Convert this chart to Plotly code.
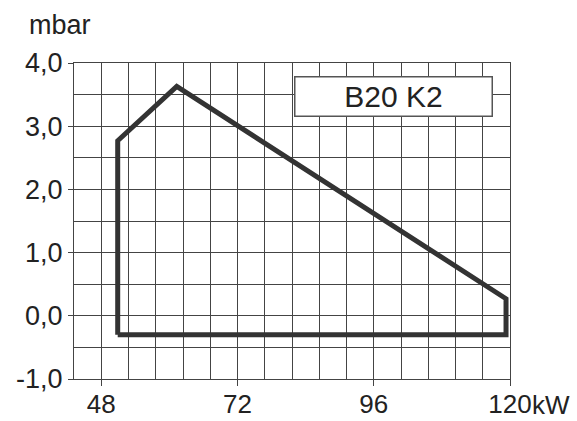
import plotly.graph_objects as go

# Operating field polygon (kW, mbar)
power_kw = [50.9, 50.9, 61.3, 119.3, 119.3, 50.9]
pressure_mbar = [-0.3, 2.77, 3.63, 0.27, -0.3, -0.3]

x_ticks = [48, 72, 96, 120]
x_tick_labels = ["48", "72", "96", "120"]
y_ticks = [-1, 0, 1, 2, 3, 4]
y_tick_labels = ["-1,0", "0,0", "1,0", "2,0", "3,0", "4,0"]

label_box = "B20 K2"
y_unit = "mbar"
x_unit = "kW"

FONT = "Liberation Sans, Arial, sans-serif"
GRID = "#444444"
TXT = "#222222"

fig = go.Figure()
fig.add_trace(go.Scatter(
    x=power_kw, y=pressure_mbar, mode="lines",
    line=dict(color="#333333", width=5),
    hoverinfo="skip", showlegend=False,
))

fig.update_xaxes(
    range=[43.2, 120], tickvals=x_ticks, ticktext=x_tick_labels,
    showgrid=True, gridcolor=GRID, gridwidth=1,
    minor=dict(tick0=43.2, dtick=4.8, showgrid=True, gridcolor=GRID, gridwidth=1),
    showline=True, linecolor=GRID, linewidth=1, mirror=True,
    ticks="outside", ticklen=6, tickcolor=GRID, tickwidth=1,
    ticklabelstandoff=-4,
    tickfont=dict(family=FONT, size=26, color=TXT),
    zeroline=False, fixedrange=True, automargin=False,
)
fig.update_yaxes(
    range=[-1, 4], tickvals=y_ticks, ticktext=y_tick_labels,
    showgrid=True, gridcolor=GRID, gridwidth=1,
    minor=dict(tick0=-1, dtick=0.5, showgrid=True, gridcolor=GRID, gridwidth=1),
    showline=True, linecolor=GRID, linewidth=1, mirror=True,
    ticks="outside", ticklen=5, tickcolor=GRID, tickwidth=1,
    tickfont=dict(family=FONT, size=27, color=TXT),
    zeroline=False, fixedrange=True, automargin=False,
)

fig.add_annotation(
    x=99.5, y=3.47, xref="x", yref="y", text=label_box, showarrow=False,
    font=dict(family=FONT, size=30, color=TXT),
    bgcolor="white", bordercolor="#555555", borderwidth=1.5, borderpad=0,
    width=196, height=38,
)
fig.add_annotation(
    x=-0.108, y=1.12, xref="paper", yref="paper", text=y_unit, showarrow=False,
    xanchor="left", yanchor="middle",
    font=dict(family=FONT, size=27, color=TXT),
)
fig.add_annotation(
    x=1.046, y=-0.082, xref="paper", yref="paper", text=x_unit, showarrow=False,
    xanchor="left", yanchor="middle",
    font=dict(family=FONT, size=26, color=TXT),
)

fig.update_layout(
    width=577, height=421,
    margin=dict(l=74, r=67, t=63, b=42, pad=0),
    paper_bgcolor="white", plot_bgcolor="white",
)

fig.write_html("out.html", config={"displayModeBar": False},
               post_script="document.body.style.margin='0px';")
